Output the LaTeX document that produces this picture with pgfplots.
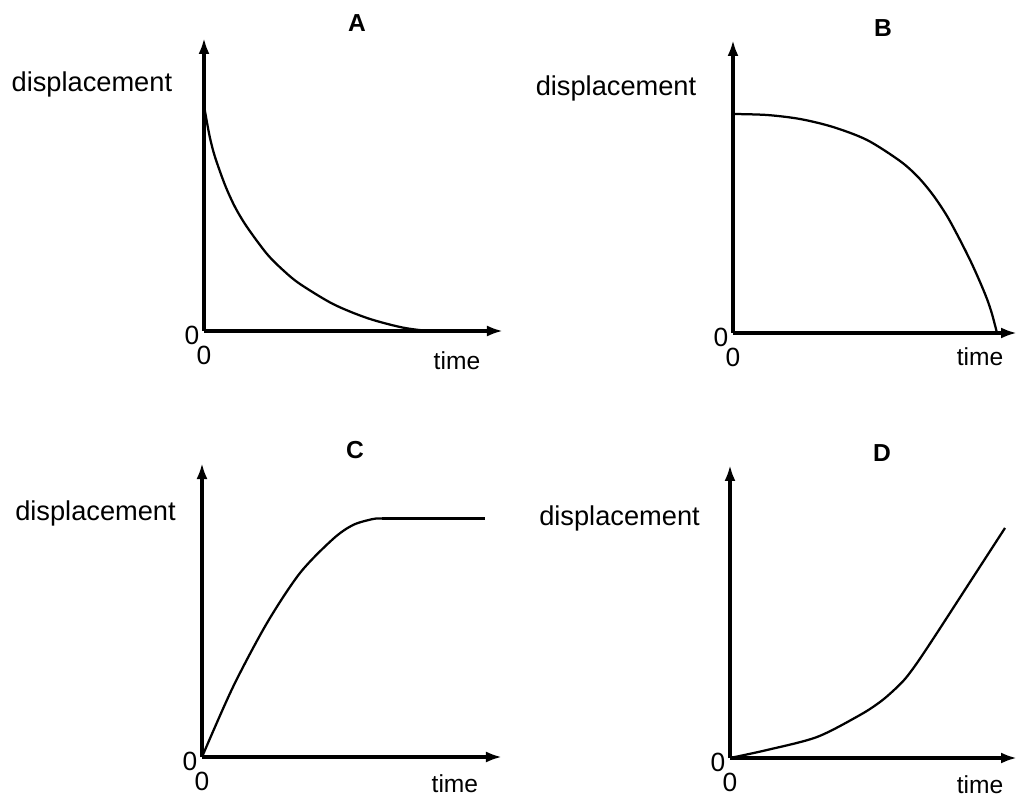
\documentclass[border=0pt]{standalone}
\usepackage{pgfplots}
\pgfplotsset{compat=1.18}
\usepackage{fontspec}
\setmainfont{Liberation Sans}
\usetikzlibrary{arrows.meta}
\pgfplotsset{
  sketch/.style={
    scale only axis, axis lines=left, clip=false,
    xmin=0, ymin=0, enlargelimits=false, anchor=south west,
    axis line style={line width=0.075cm, -{Latex[length=0.32cm,width=0.22cm]}},
    xtick={0}, ytick={0}, major tick length=0pt,
    /pgf/number format/assume math mode=true,
    tick label style={font=\fontsize{15}{16}\selectfont, inner sep=0pt},
    xticklabel style={anchor=center, yshift=-0.48cm},
    yticklabel style={anchor=center, xshift=-0.24cm, yshift=-0.08cm},
    title style={font=\bfseries\fontsize{14}{16}\selectfont, anchor=center, yshift=-6pt},
    ylabel style={font=\fontsize{15.5}{18}\selectfont, rotate=-90, anchor=center},
    xlabel style={font=\fontsize{14}{16}\selectfont, anchor=center},
  },
  curve/.style={black, line width=0.045cm, mark=none, smooth, tension=0.5},
}
\begin{document}
\begin{tikzpicture}
\useasboundingbox (0,0) rectangle (20.38cm,15.96cm);
% Panel A
\begin{axis}[sketch, at={(4.08cm,9.34cm)}, width=5.98cm, height=5.86cm,
  xmax=299, ymax=293,
  title={A}, title style={at={(axis description cs:0.512,1.051)}},
  ylabel={displacement}, ylabel style={at={(axis description cs:-0.375,0.84)}},
  xlabel={time}, xlabel style={at={(axis description cs:0.846,-0.102)}}]
\addplot[curve] coordinates {(0,226) (2,214) (6,193) (11,174) (21,146) (31,124) (43,104) (63,77) (80,60) (96,47) (129,27) (163,13) (196,4) (220,0.5) (240,0)};
\end{axis}
% Panel B
\begin{axis}[sketch, at={(14.66cm,9.30cm)}, width=5.68cm, height=5.86cm,
  xmax=284, ymax=293,
  title={B}, title style={at={(axis description cs:0.528,1.041)}},
  ylabel={displacement}, ylabel style={at={(axis description cs:-0.412,0.836)}},
  xlabel={time}, xlabel style={at={(axis description cs:0.870,-0.082)}}]
\addplot[curve] coordinates {(0,219) (34,218) (67,214) (100,206) (134,193) (167,172) (185,156) (200,138) (214,117) (227,93) (238,71) (247,51) (254,34) (259,19) (264,0)};
\end{axis}
% Panel C
\begin{axis}[sketch, at={(4.04cm,0.82cm)}, width=6.00cm, height=5.88cm,
  xmax=300, ymax=294,
  title={C}, title style={at={(axis description cs:0.51,1.044)}},
  ylabel={displacement}, ylabel style={at={(axis description cs:-0.355,0.83)}},
  xlabel={time}, xlabel style={at={(axis description cs:0.843,-0.09)}}]
\addplot[curve] coordinates {(0,0) (31,70) (65,134) (98,184) (131,218) (151,232) (171,238) (180,238.5)};
\addplot[curve] coordinates {(180,238.5) (283,238.5)};
\end{axis}
% Panel D
\begin{axis}[sketch, at={(14.60cm,0.80cm)}, width=5.74cm, height=5.86cm,
  xmax=287, ymax=293,
  title={D}, title style={at={(axis description cs:0.53,1.041)}},
  ylabel={displacement}, ylabel style={at={(axis description cs:-0.385,0.819)}},
  xlabel={time}, xlabel style={at={(axis description cs:0.871,-0.09)}}]
\addplot[curve] coordinates {(0,0) (37,8) (87,21) (130,43) (150,56) (163,67) (175,79) (187,95) (205,122) (240,176) (275,230)};
\end{axis}
\end{tikzpicture}
\end{document}
